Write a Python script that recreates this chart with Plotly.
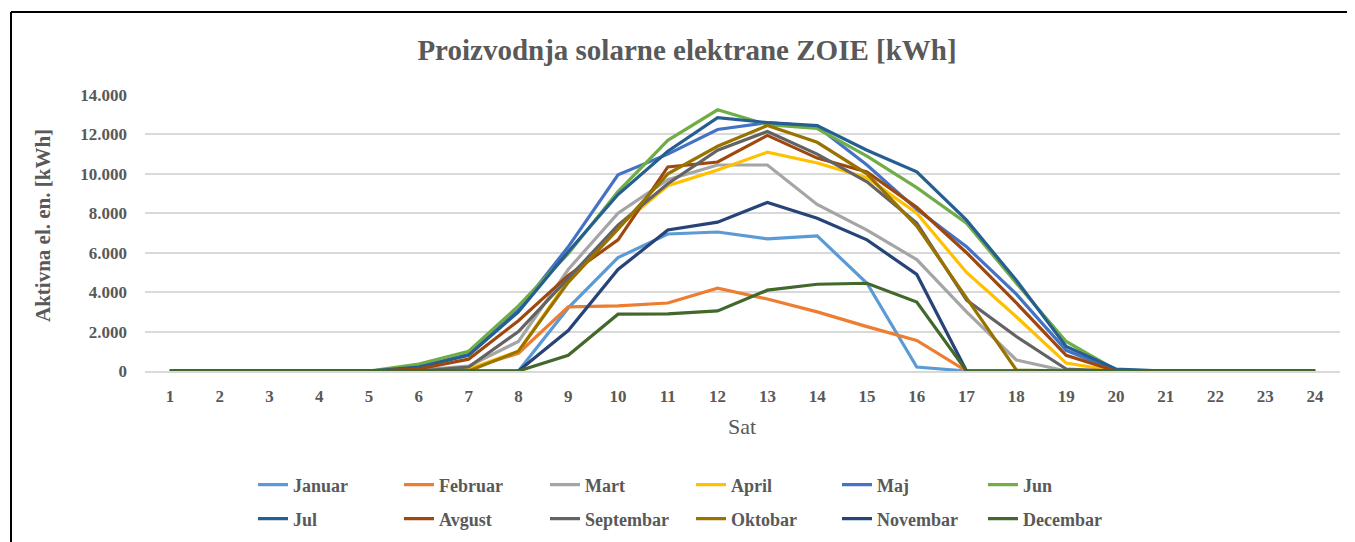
import plotly.graph_objects as go

hours = list(range(1, 25))

januar    = [0,0,0,0,0,0,0,0,3200,5750,6950,7050,6700,6850,4450,200,0,0,0,0,0,0,0,0]
februar   = [0,0,0,0,0,0,100,900,3250,3300,3450,4200,3650,3000,2250,1550,0,0,0,0,0,0,0,0]
mart      = [0,0,0,0,0,50,250,1500,5150,8000,9700,10450,10450,8450,7150,5650,3000,560,0,0,0,0,0,0]
april     = [0,0,0,0,0,0,100,1000,4600,7300,9400,10200,11100,10550,9800,8000,5000,2750,400,0,0,0,0,0]
maj       = [0,0,0,0,0,200,850,3100,6300,9950,11000,12250,12600,12400,10450,8200,6300,3900,1050,30,0,0,0,0]
jun       = [0,0,0,0,0,350,1000,3300,5950,9100,11700,13250,12500,12300,10900,9300,7500,4450,1500,50,0,0,0,0]
jul       = [0,0,0,0,0,200,800,3000,6050,8950,11150,12850,12600,12450,11200,10100,7650,4600,1250,100,0,0,0,0]
avgust    = [0,0,0,0,0,100,600,2550,4850,6650,10350,10600,11950,10800,10100,8300,6000,3450,800,0,0,0,0,0]
septembar = [0,0,0,0,0,0,200,2000,4700,7400,9500,11200,12150,11000,9600,7500,3600,1750,100,0,0,0,0,0]
oktobar   = [0,0,0,0,0,0,0,1000,4500,7200,10000,11400,12450,11600,10000,7350,3700,50,0,0,0,0,0,0]
novembar  = [0,0,0,0,0,0,0,0,2050,5150,7150,7550,8550,7750,6650,4900,0,0,0,0,0,0,0,0]
decembar  = [0,0,0,0,0,0,0,0,800,2880,2900,3050,4100,4400,4450,3500,0,0,0,0,0,0,0,0]

names = ["Januar","Februar","Mart","April","Maj","Jun","Jul","Avgust","Septembar","Oktobar","Novembar","Decembar"]
series = [januar,februar,mart,april,maj,jun,jul,avgust,septembar,oktobar,novembar,decembar]
colors = ["#5B9BD5","#ED7D31","#A5A5A5","#FFC000","#4472C4","#70AD47",
          "#255E91","#9E480E","#636363","#997300","#264478","#43682B"]

y_ticks = [0,2000,4000,6000,8000,10000,12000,14000]

FONT = "Liberation Serif"
TXT = "#595959"

# page body has an 8px margin; the figure is sized to fit the 1355x542 window
OFF = 8
W, H = 1355 - OFF, 542 - OFF
PL, PR, PT, PB = 145, 1340, 95, 371          # plot area in window pixels
PW, PH = PR - PL, PB - PT

def px(x):
    return (x - PL) / PW

def py(y):
    return (PB - y) / PH

def cy(y):
    return 1 - (y - OFF) / H

fig = go.Figure()
for i, (n, s, c) in enumerate(zip(names, series, colors)):
    fig.add_trace(go.Scatter(x=hours, y=s, name=n, mode="lines",
                             line=dict(color=c, width=3.2),
                             legend="legend" if i < 6 else "legend2"))

leg_common = dict(orientation="h", xanchor="left", yanchor="middle", yref="container",
                  font=dict(family=FONT, size=18, color=TXT, weight="bold"),
                  entrywidth=101, entrywidthmode="pixels", tracegroupgap=0,
                  itemclick=False, itemdoubleclick=False, bgcolor="rgba(0,0,0,0)")

fig.update_layout(
    width=W, height=H,
    margin=dict(l=PL - OFF, r=W - (PR - OFF), t=PT - OFF, b=H - (PB - OFF)),
    paper_bgcolor="white", plot_bgcolor="white",
    separators=",.",
    title=dict(text="Proizvodnja solarne elektrane ZOIE [kWh]",
               x=px(687), xref="paper", xanchor="center",
               y=cy(50), yanchor="middle",
               font=dict(family=FONT, size=29, color=TXT, weight="bold")),
    xaxis=dict(range=[0.5, 24.5], tickmode="array", tickvals=hours,
               showgrid=False, zeroline=False, showline=True, linecolor="#D9D9D9", linewidth=1.5,
               ticks="", tickfont=dict(family=FONT, size=17, color=TXT, weight="bold"),
               ticklabelstandoff=9, fixedrange=True, automargin=False),
    yaxis=dict(range=[0, 14000], tickmode="array", tickvals=y_ticks, tickformat=",d",
               showgrid=True, gridcolor="#D9D9D9", gridwidth=1.5, zeroline=False,
               ticks="", tickfont=dict(family=FONT, size=17, color=TXT, weight="bold"),
               ticklabelstandoff=17, fixedrange=True, automargin=False),
    legend=dict(x=px(253), y=cy(485), **leg_common),
    legend2=dict(x=px(253), y=cy(519), **leg_common),
    showlegend=True,
)

fig.add_annotation(text="Aktivna el. en. [kWh]", xref="paper", yref="paper",
                   x=px(43), y=py(226), textangle=-90,
                   showarrow=False, xanchor="center", yanchor="middle",
                   font=dict(family=FONT, size=21, color=TXT, weight="bold"))
fig.add_annotation(text="Sat", xref="paper", yref="paper",
                   x=px(742), y=py(426),
                   showarrow=False, xanchor="center", yanchor="middle",
                   font=dict(family=FONT, size=22, color=TXT))

# frame lines (left and top) of the original chart box
fig.add_shape(type="line", xref="paper", yref="paper",
              x0=px(11), x1=px(1365), y0=py(12), y1=py(12),
              line=dict(color="black", width=2))
fig.add_shape(type="line", xref="paper", yref="paper",
              x0=px(11), x1=px(11), y0=py(12), y1=py(560),
              line=dict(color="black", width=2))

fig.write_html("out.html")
